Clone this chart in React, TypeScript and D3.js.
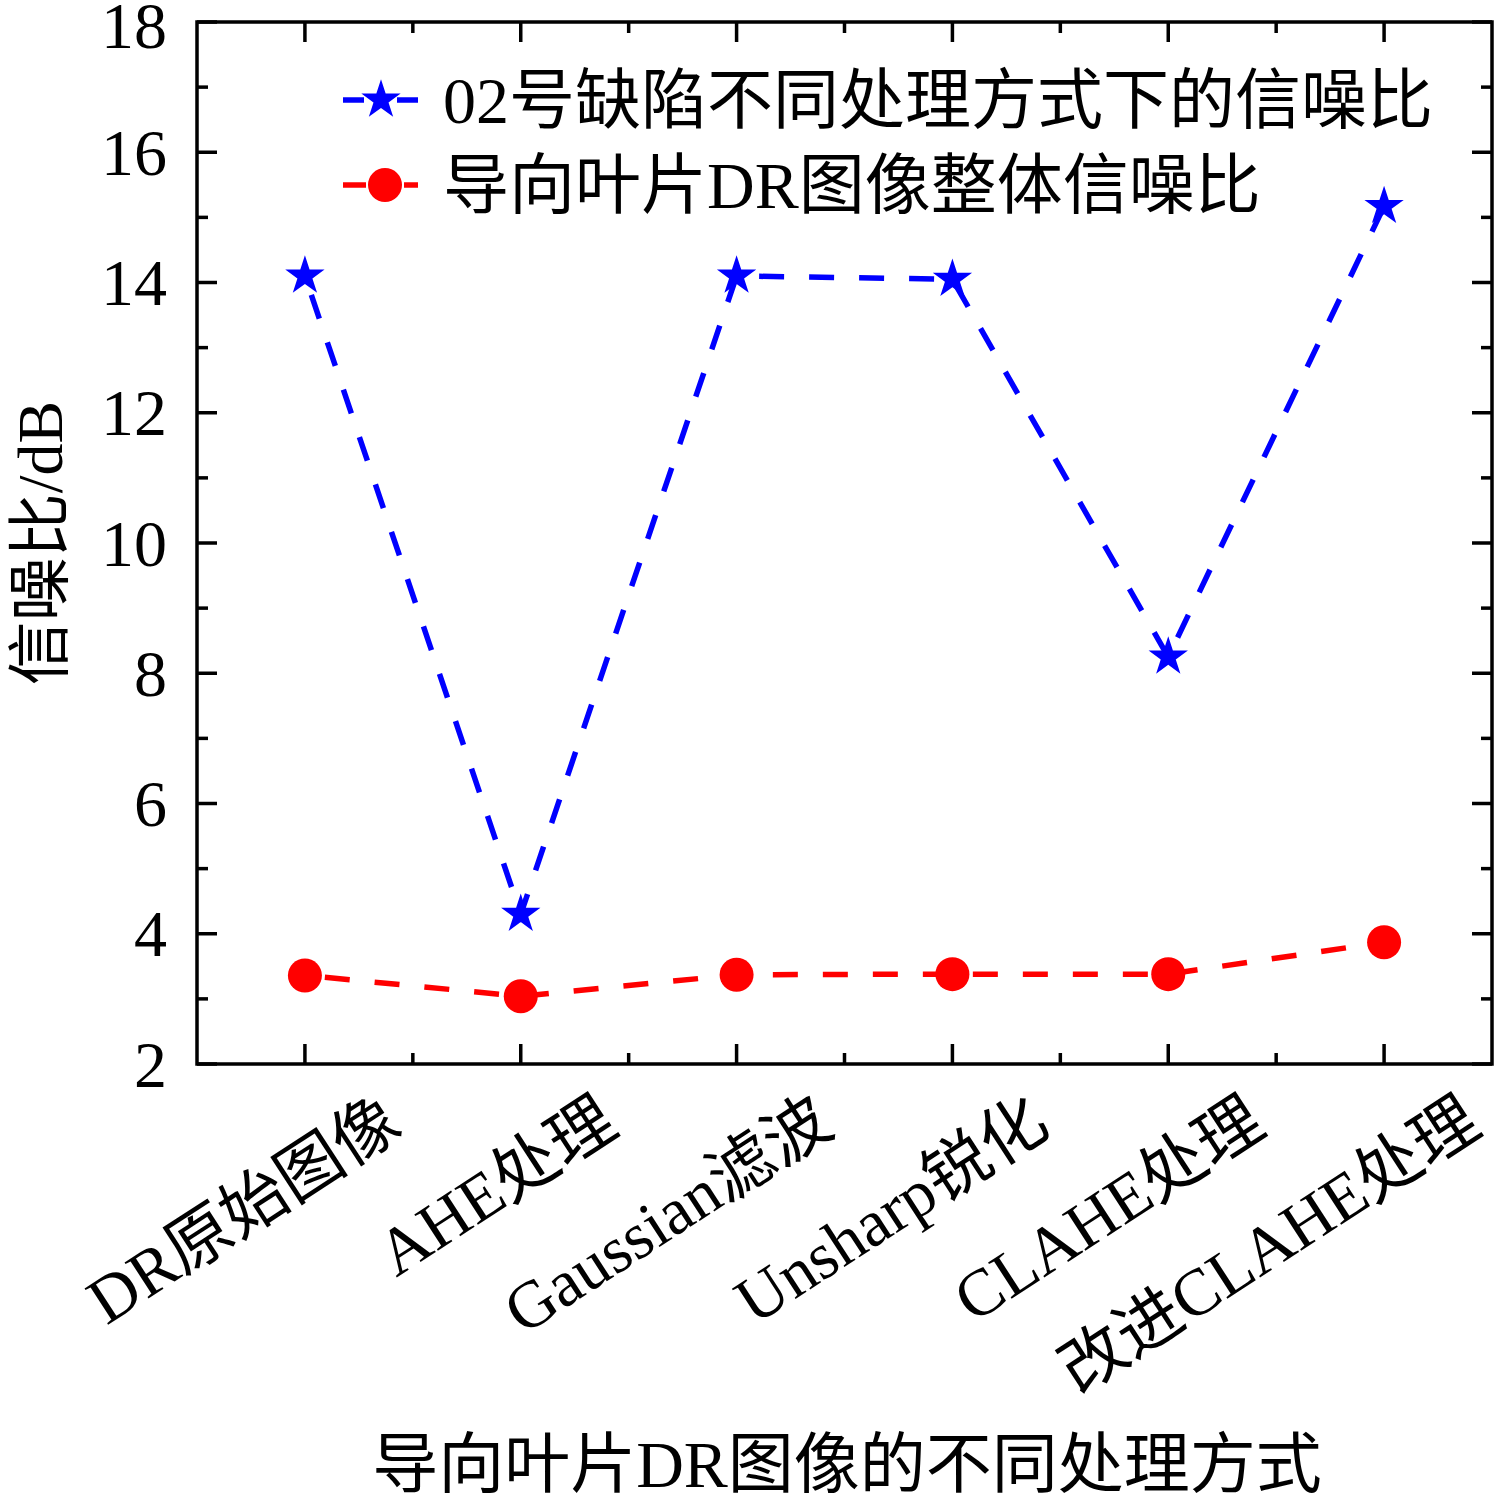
import React from 'react';
import * as d3 from 'd3';

const categories = ['DR原始图像', 'AHE处理', 'Gaussian滤波', 'Unsharp锐化', 'CLAHE处理', '改进CLAHE处理'];
const defectSNR = [14.1, 4.3, 14.1, 14.05, 8.25, 15.17];
const overallSNR = [3.36, 3.04, 3.37, 3.38, 3.38, 3.87];
const yMajorTicks = [2, 4, 6, 8, 10, 12, 14, 16, 18];
const yMinorTicks = [3, 5, 7, 9, 11, 13, 15, 17];
const seriesNames = ['02号缺陷不同处理方式下的信噪比', '导向叶片DR图像整体信噪比'];
const xTitle = '导向叶片DR图像的不同处理方式';
const yTitle = '信噪比/dB';

const W = 1496;
const H = 1504;
const left = 197, right = 1492, top = 22, bottom = 1064;
const FONT = "'Liberation Serif', 'Times New Roman', 'Noto Sans CJK SC', serif";

export default function App() {
  const x = d3.scaleLinear().domain([-0.5, categories.length - 0.5]).range([left, right]);
  const y = d3.scaleLinear().domain([2, 18]).range([bottom, top]);
  const idx = categories.map((_, i) => i);
  const xMinor = idx.slice(0, -1).map(i => i + 0.5);

  const line = d3.line<number>().x((_, i) => x(i)).y(v => y(v));
  const star = d3.symbol().type(d3.symbolStar).size(480)() as string;

  const major = 20, minor = 11;
  const tickStroke = 3.5;
  const dash = '25,25';
  const lw = 5.5;

  return (
    <svg width={W} height={H} style={{ position: 'absolute', left: 0, top: 0, background: '#fff' }} fontFamily={FONT}>
      <rect x={0} y={0} width={W} height={H} fill="#fff" />
      {/* series lines */}
      <path d={line(overallSNR) || ''} fill="none" stroke="#ff0000" strokeWidth={lw} strokeDasharray={dash} strokeDashoffset={-20} />
      <path d={line(defectSNR) || ''} fill="none" stroke="#0000ff" strokeWidth={lw} strokeDasharray={dash} strokeDashoffset={-20} />
      {overallSNR.map((v, i) => (
        <circle key={'c' + i} cx={x(i)} cy={y(v)} r={17} fill="#ff0000" />
      ))}
      {defectSNR.map((v, i) => (
        <path key={'s' + i} d={star} transform={`translate(${x(i)},${y(v)})`} fill="#0000ff" />
      ))}

      {/* frame */}
      <rect x={left} y={top} width={right - left} height={bottom - top} fill="none" stroke="#000" strokeWidth={3.5} />

      {/* y ticks */}
      {yMajorTicks.map(t => (
        <g key={'ym' + t}>
          <line x1={left} x2={left + major} y1={y(t)} y2={y(t)} stroke="#000" strokeWidth={tickStroke} />
          <line x1={right} x2={right - major} y1={y(t)} y2={y(t)} stroke="#000" strokeWidth={tickStroke} />
          <text x={left - 30} y={Math.max(y(t), 25)} textAnchor="end" dominantBaseline="central" fontSize={66}>{t}</text>
        </g>
      ))}
      {yMinorTicks.map(t => (
        <g key={'yn' + t}>
          <line x1={left} x2={left + minor} y1={y(t)} y2={y(t)} stroke="#000" strokeWidth={tickStroke} />
          <line x1={right} x2={right - minor} y1={y(t)} y2={y(t)} stroke="#000" strokeWidth={tickStroke} />
        </g>
      ))}

      {/* x ticks */}
      {idx.map(i => (
        <g key={'xm' + i}>
          <line x1={x(i)} x2={x(i)} y1={bottom} y2={bottom - major} stroke="#000" strokeWidth={tickStroke} />
          <line x1={x(i)} x2={x(i)} y1={top} y2={top + major} stroke="#000" strokeWidth={tickStroke} />
          <text
            transform={`translate(${x(i) + 100},${1132}) rotate(-33)`}
            textAnchor="end"
            fontSize={66}
          >{categories[i]}</text>
        </g>
      ))}
      {xMinor.map(t => (
        <g key={'xn' + t}>
          <line x1={x(t)} x2={x(t)} y1={bottom} y2={bottom - minor} stroke="#000" strokeWidth={tickStroke} />
          <line x1={x(t)} x2={x(t)} y1={top} y2={top + minor} stroke="#000" strokeWidth={tickStroke} />
        </g>
      ))}

      {/* axis titles */}
      <text x={847} y={1487} textAnchor="middle" fontSize={66}>{xTitle}</text>
      <text transform={`translate(62,${(top + bottom) / 2}) rotate(-90)`} textAnchor="middle" fontSize={64}>{yTitle}</text>

      {/* legend */}
      <g>
        <line x1={343} x2={364} y1={100} y2={100} stroke="#0000ff" strokeWidth={lw} />
        <line x1={397} x2={418} y1={100} y2={100} stroke="#0000ff" strokeWidth={lw} />
        <path d={star} transform="translate(381,100)" fill="#0000ff" />
        <text x={443} y={123} fontSize={66}>{seriesNames[0]}</text>
        <line x1={343} x2={366} y1={185} y2={185} stroke="#ff0000" strokeWidth={lw} />
        <line x1={404} x2={418} y1={185} y2={185} stroke="#ff0000" strokeWidth={lw} />
        <circle cx={385} cy={185} r={17} fill="#ff0000" />
        <text x={443} y={208} fontSize={66}>{seriesNames[1]}</text>
      </g>
    </svg>
  );
}
